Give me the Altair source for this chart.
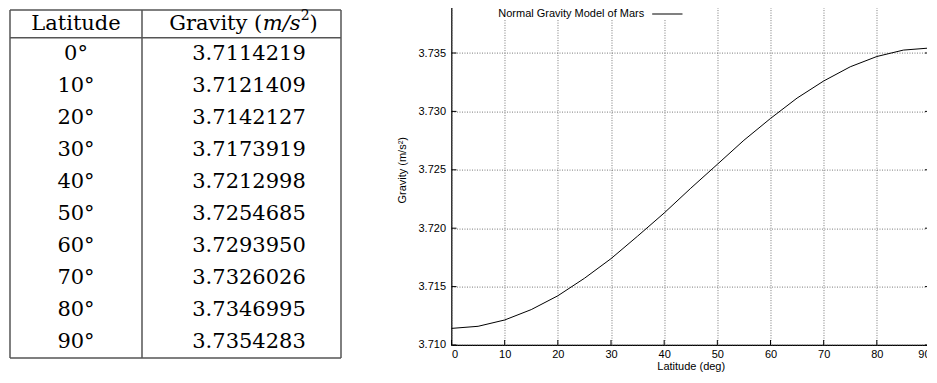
import altair as alt
import pandas as pd

# ---------------- data ----------------
table_lat = [0, 10, 20, 30, 40, 50, 60, 70, 80, 90]
table_g = ["3.7114219", "3.7121409", "3.7142127", "3.7173919", "3.7212998",
           "3.7254685", "3.7293950", "3.7326026", "3.7346995", "3.7354283"]
header_lat = "Latitude"
header_g_parts = ["Gravity (", "m/s", "2", ")"]

curve_lat = [0, 5, 10, 15, 20, 25, 30, 35, 40, 45, 50, 55, 60, 65, 70, 75, 80, 85, 90]
curve_g = [3.7114219, 3.71160, 3.7121409, 3.71303, 3.7142127, 3.71571, 3.7173919,
           3.71932, 3.7212998, 3.72342, 3.7254685, 3.72753, 3.7293950, 3.73114,
           3.7326026, 3.73382, 3.7346995, 3.73525, 3.7354283]

y_ticks = [3.710, 3.715, 3.720, 3.725, 3.730, 3.735]
x_ticks = [0, 10, 20, 30, 40, 50, 60, 70, 80, 90]
legend_label = "Normal Gravity Model of Mars"

# ---------------- layout constants ----------------
TW, TH = 334, 350.4          # table panel size
ROW_H = 32.03                # data row height (px)
HDR_TOP, BODY_TOP = 15.4, 43.1   # px offsets inside table panel
L_EDGE, DIV, R_EDGE = 2, 134, 333
C1, C2 = 68, 241
PW, PH = 478.5, 350.4        # plot size
FS_T = 21                    # table font size
FS = 11                      # plot font size

serif = "DejaVu Serif"
sans = "Liberation Sans"

# ---------------- table ----------------
nbody = len(table_lat)
hdr_u = (HDR_TOP - BODY_TOP) / ROW_H      # header top in row units (negative)
tx = alt.Scale(domain=[0, TW])
ty = alt.Scale(domain=[-BODY_TOP / ROW_H, (TH - BODY_TOP) / ROW_H], reverse=True)
X = lambda f: alt.X(f, scale=tx, axis=None)
Y = lambda f: alt.Y(f, scale=ty, axis=None)

body = []
for i, (la, g) in enumerate(zip(table_lat, table_g)):
    body.append({"x": C1, "y": i + 0.5, "t": f"{la}°"})
    body.append({"x": C2, "y": i + 0.5, "t": g})
body_df = pd.DataFrame(body)

hy = hdr_u / 2
# header "Gravity (m/s^2)" assembled from pieces (approximate glyph widths)
w_par = 4.41 * FS_T
w_ms = 1.80 * FS_T
w_sup = 0.64 * 14
w_close = 0.39 * FS_T
total = w_par + w_ms + w_sup + w_close
x0 = C2 - total / 2 - 6

t_body = alt.Chart(body_df).mark_text(font=serif, fontSize=FS_T, color="black",
                                      baseline="middle", align="center").encode(
    x=X("x:Q"), y=Y("y:Q"), text="t:N")
t_hlat = alt.Chart(pd.DataFrame([{"x": C1, "y": hy, "t": header_lat}])).mark_text(
    font=serif, fontSize=FS_T, color="black", baseline="middle", align="center").encode(
    x=X("x:Q"), y=Y("y:Q"), text="t:N")
t_g1 = alt.Chart(pd.DataFrame([{"x": x0, "y": hy, "t": header_g_parts[0]}])).mark_text(
    font=serif, fontSize=FS_T, color="black", baseline="middle", align="left").encode(
    x=X("x:Q"), y=Y("y:Q"), text="t:N")
t_g2 = alt.Chart(pd.DataFrame([{"x": x0 + w_par + 1, "y": hy, "t": header_g_parts[1]}])).mark_text(
    font=serif, fontSize=FS_T, fontStyle="italic", color="black", baseline="middle",
    align="left").encode(x=X("x:Q"), y=Y("y:Q"), text="t:N")
t_g3 = alt.Chart(pd.DataFrame([{"x": x0 + w_par + w_ms + 1, "y": hy, "t": header_g_parts[2]}])).mark_text(
    font=serif, fontSize=14, color="black", baseline="middle", align="left", dy=-8).encode(
    x=X("x:Q"), y=Y("y:Q"), text="t:N")
t_g4 = alt.Chart(pd.DataFrame([{"x": x0 + w_par + w_ms + w_sup + 1, "y": hy, "t": header_g_parts[3]}])).mark_text(
    font=serif, fontSize=FS_T, color="black", baseline="middle", align="left").encode(
    x=X("x:Q"), y=Y("y:Q"), text="t:N")

hr_df = pd.DataFrame({"y": [hdr_u, 0, nbody], "x": [L_EDGE] * 3, "x2": [R_EDGE] * 3})
vr_df = pd.DataFrame({"x": [L_EDGE, DIV, R_EDGE], "y": [hdr_u] * 3, "y2": [nbody] * 3})
t_h = alt.Chart(hr_df).mark_rule(color="#555", strokeWidth=1.5).encode(
    x=X("x:Q"), x2="x2:Q", y=Y("y:Q"))
t_v = alt.Chart(vr_df).mark_rule(color="#555", strokeWidth=1.5).encode(
    x=X("x:Q"), y=Y("y:Q"), y2="y2:Q")

table = alt.layer(t_h, t_v, t_body, t_hlat, t_g1, t_g2, t_g3, t_g4).properties(
    width=TW, height=TH)

# ---------------- plot ----------------
curve_df = pd.DataFrame({"lat": curve_lat, "g": curve_g})

x_enc = alt.X("lat:Q", scale=alt.Scale(domain=[0, 90], nice=False),
              axis=alt.Axis(values=x_ticks, title="Latitude (deg)", format="d",
                            labelPadding=4, titlePadding=1))
y_enc = alt.Y("g:Q", scale=alt.Scale(domain=[3.710, 3.740], nice=False, zero=False),
              axis=alt.Axis(values=y_ticks, title="Gravity (m/s²)", format=".3f",
                            labelPadding=6, titlePadding=10.8))

line = alt.Chart(curve_df).mark_line(color="black", strokeWidth=1).encode(x=x_enc, y=y_enc)

yt_df = pd.DataFrame({"g": y_ticks})
xt_df = pd.DataFrame({"lat": x_ticks})
ytick_l = alt.Chart(yt_df).mark_rule(color="black").encode(
    y=y_enc, x=alt.value(0), x2=alt.value(5))
ytick_r = alt.Chart(yt_df).mark_rule(color="black").encode(
    y=y_enc, x=alt.value(PW - 5), x2=alt.value(PW))
xtick_b = alt.Chart(xt_df).mark_rule(color="black").encode(
    x=x_enc, y=alt.value(PH - 5), y2=alt.value(PH))

LEG_Y = 19.4
one = alt.Data(values=[{}])
leg_box = alt.Chart(one).mark_rect(fill="white").encode(
    x=alt.value(35), x2=alt.value(237), y=alt.value(0), y2=alt.value(LEG_Y + 6))
leg_text = alt.Chart(one).mark_text(font=sans, fontSize=FS, align="right",
                                    baseline="middle", color="black").encode(
    x=alt.value(192.7), y=alt.value(LEG_Y), text=alt.value(legend_label))
leg_line = alt.Chart(one).mark_rule(color="black", strokeWidth=1).encode(
    x=alt.value(200.7), x2=alt.value(231), y=alt.value(LEG_Y))

plot = alt.layer(line, ytick_l, ytick_r, xtick_b, leg_box, leg_text, leg_line).properties(
    width=PW, height=PH,
    view=alt.ViewBackground(stroke="black", strokeWidth=1.2))

chart = alt.hconcat(table, plot, spacing=53.5).properties(
    padding={"left": 0, "top": -14.4, "right": -6.4, "bottom": 0}
).configure_view(stroke=None).configure_axis(
    labelFont=sans, titleFont=sans, labelFontSize=FS, titleFontSize=FS,
    titleFontWeight="normal", labelColor="black", titleColor="black",
    ticks=False, domain=False, grid=True, gridColor="#555", gridDash=[1, 1.5],
    gridWidth=0.8, gridOpacity=1
)

chart.save("out.html", embed_options={"renderer": "svg", "actions": False})
